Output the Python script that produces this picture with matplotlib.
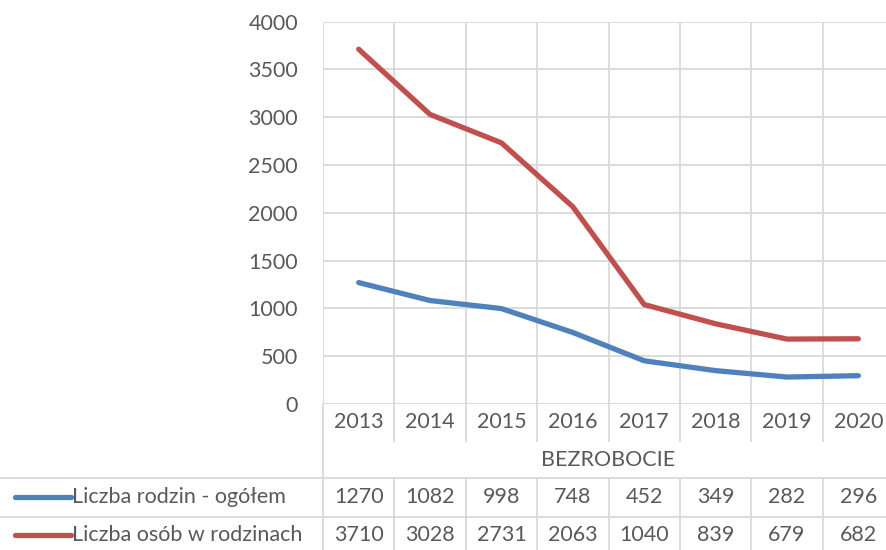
import matplotlib
matplotlib.use("Agg")
import matplotlib.pyplot as plt
from matplotlib.lines import Line2D
from matplotlib.transforms import blended_transform_factory

years = ["2013", "2014", "2015", "2016", "2017", "2018", "2019", "2020"]
rodziny = [1270, 1082, 998, 748, 452, 349, 282, 296]
osoby = [3710, 3028, 2731, 2063, 1040, 839, 679, 682]
series_names = ["Liczba rodzin - ogółem", "Liczba osób w rodzinach"]
category_title = "BEZROBOCIE"
yticks = [0, 500, 1000, 1500, 2000, 2500, 3000, 3500, 4000]

BLUE = "#4F81BD"
RED = "#C0504D"
GRID = "#D9D9D9"
TXT = "#595959"
FONT = "Lato"
FS = 15.5

W, H = 887, 550
fig = plt.figure(figsize=(W / 100, H / 100), dpi=100)

def fx(x):
    return x / W

def fy(y):
    return 1 - y / H

left, right, top, bottom = 323, 894, 21.5, 404
ax = fig.add_axes([fx(left), fy(bottom), (right - left) / W, (bottom - top) / H])
n = len(years)
xs = list(range(n))
ax.plot(xs, rodziny, color=BLUE, lw=3.8, solid_capstyle="round", solid_joinstyle="round", zorder=3)
ax.plot(xs, osoby, color=RED, lw=3.8, solid_capstyle="round", solid_joinstyle="round", zorder=3)
ax.set_xlim(-0.5, n - 0.5)
ax.set_ylim(0, 4000)
ax.set_yticks(yticks)
ax.set_yticklabels([str(v) for v in yticks], fontfamily=FONT, fontsize=FS, color=TXT)
ax.tick_params(axis="y", length=0, pad=18)
ax.set_xticks([i + 0.5 for i in range(-1, n)])
ax.set_xticklabels([])
ax.tick_params(axis="x", length=0)
ax.grid(True, color=GRID, lw=1.3)
ax.set_axisbelow(True)
for s in ax.spines.values():
    s.set_visible(False)
ax.axvline(-0.5, color=GRID, lw=1.3, zorder=1)

# table section
bt = blended_transform_factory(ax.transData, fig.transFigure)

def hline(x0, x1, y):
    fig.add_artist(Line2D([fx(x0), fx(x1)], [fy(y), fy(y)], color=GRID, lw=1.3))

def vline_data(xd, y0, y1):
    fig.add_artist(Line2D([xd, xd], [fy(y0), fy(y1)], color=GRID, lw=1.3, transform=bt))

# left border of table
fig.add_artist(Line2D([fx(left), fx(left)], [fy(bottom), fy(H)], color=GRID, lw=1.3))
for i in range(n):
    vline_data(i + 0.5, bottom, 441)
    vline_data(i + 0.5, 478, H)
hline(0, W, 478)
hline(0, W, 517)

for i, yr in enumerate(years):
    fig.text(i, fy(422), yr, transform=bt, ha="center", va="center",
             fontfamily=FONT, fontsize=FS, color=TXT)
fig.text((n - 1) / 2, fy(460), category_title, transform=bt, ha="center", va="center",
         fontfamily=FONT, fontsize=FS, color=TXT)

rows = [(rodziny, BLUE, 497), (osoby, RED, 535)]
for (vals, col, yy), name in zip(rows, series_names):
    fig.add_artist(Line2D([fx(15), fx(71)], [fy(yy), fy(yy)], color=col, lw=3.8,
                          solid_capstyle="round"))
    fig.text(fx(72), fy(yy), name, ha="left", va="center",
             fontfamily=FONT, fontsize=FS, color=TXT)
    for i, v in enumerate(vals):
        fig.text(i, fy(yy), str(v), transform=bt, ha="center", va="center",
                 fontfamily=FONT, fontsize=FS, color=TXT)

fig.savefig("out.png", dpi=100)
